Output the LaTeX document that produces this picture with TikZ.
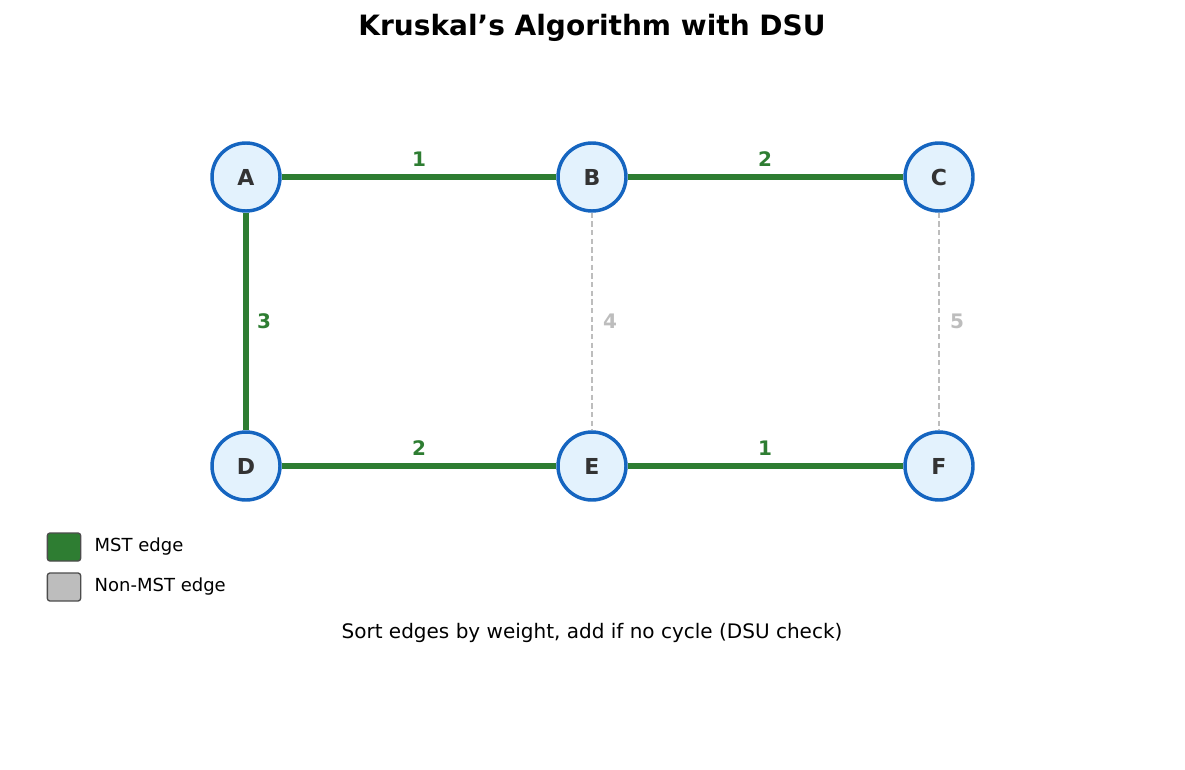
\documentclass[tikz,border=0pt]{standalone}
\usepackage{fontspec}
\setmainfont{DejaVu Sans}
\begin{document}
\begin{tikzpicture}[x=0.75pt,y=-0.75pt,
  vtx/.style={circle,draw=vb,fill=vf,line width=2.6pt,minimum size=51pt,inner sep=0pt,font=\fontsize{16.5}{18}\selectfont\bfseries,text=vt},
  mst/.style={draw=mg,line width=3.8pt},
  non/.style={draw=ng,line width=1.1pt,dash pattern=on 4pt off 2.5pt},
  ml/.style={font=\fontsize{15}{17}\selectfont\bfseries,text=mg},
  nl/.style={font=\fontsize{15}{17}\selectfont\bfseries,text=ng},
  leg/.style={rounded corners=2pt,draw=black!70,line width=1pt,minimum width=25pt,minimum height=21pt,inner sep=0pt},
  lt/.style={anchor=west,font=\fontsize{13.5}{16}\selectfont}]
\definecolor{vb}{HTML}{1565C0}\definecolor{vf}{HTML}{E3F2FD}\definecolor{vt}{HTML}{333333}
\definecolor{mg}{HTML}{2E7D32}\definecolor{ng}{HTML}{BDBDBD}
\useasboundingbox (0,0) rectangle (1185,770);
\node[font=\fontsize{21}{24}\selectfont\bfseries] (title) at (592,28) {Kruskal's Algorithm with DSU};
\node[vtx] (A) at (246,177) {A};
\node[vtx] (B) at (592,177) {B};
\node[vtx] (C) at (939,177) {C};
\node[vtx] (D) at (246,466) {D};
\node[vtx] (E) at (592,466) {E};
\node[vtx] (F) at (939,466) {F};
\begin{scope}[on background layer/.style={}]
\end{scope}
\draw[mst] (A) -- (B);
\draw[mst] (B) -- (C);
\draw[mst] (A) -- (D);
\draw[mst] (D) -- (E);
\draw[mst] (E) -- (F);
\draw[non] (B) -- (E);
\draw[non] (C) -- (F);
\node[ml] (l1) at (419,159) {1};
\node[ml] (l2) at (765,159) {2};
\node[ml] (l3) at (264,321) {3};
\node[nl] (l4) at (610,321) {4};
\node[nl] (l5) at (957,321) {5};
\node[ml] (l6) at (419,448) {2};
\node[ml] (l7) at (765,448) {1};
\node[leg,fill=mg] (k1) at (64,547) {};
\node[leg,fill=ng] (k2) at (64,587) {};
\node[lt] (t1) at (90,547) {MST edge};
\node[lt] (t2) at (90,587) {Non-MST edge};
\node[font=\fontsize{15}{18}\selectfont] (cap) at (592,633) {Sort edges by weight, add if no cycle (DSU check)};
\end{tikzpicture}
\end{document}
